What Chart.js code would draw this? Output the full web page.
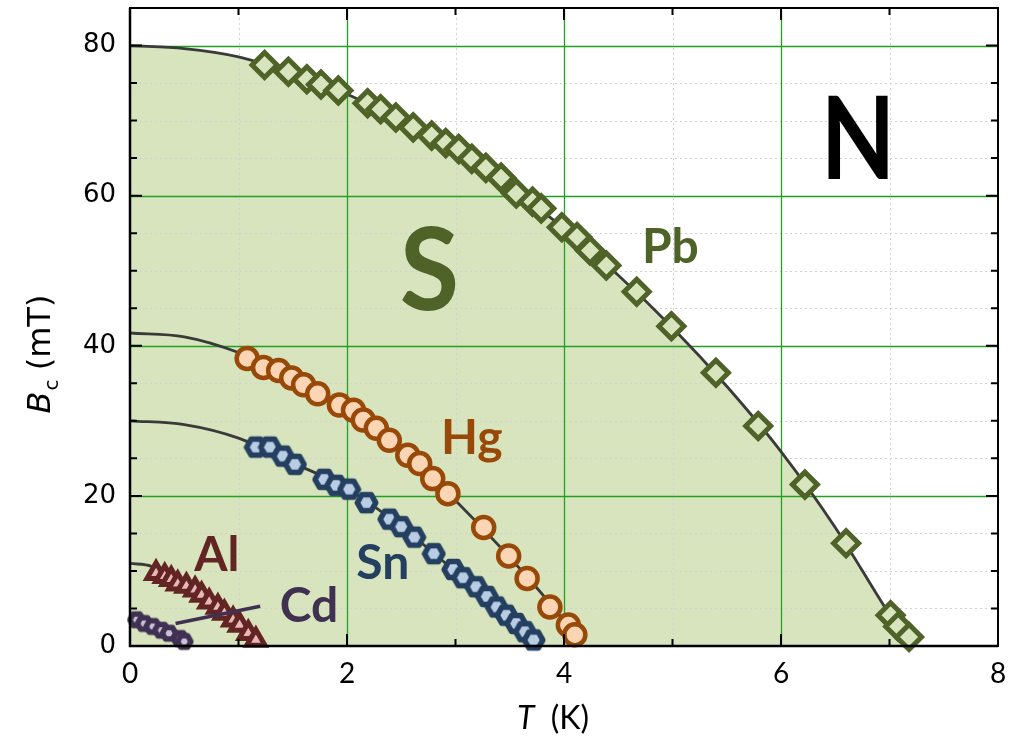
<!DOCTYPE html>
<html>
<head>
<meta charset="utf-8">
<script src="https://cdn.jsdelivr.net/npm/chart.js@4.4.0/dist/chart.umd.min.js"></script>
<style>
html, body { margin: 0; padding: 0; background: #fff; }
canvas { display: block; }
</style>
</head>
<body>
<canvas id="bcChart" width="1013" height="741"></canvas>
<script>
// measured points, T in K and Bc in mT
const pbT = [1.24, 1.46, 1.63, 1.76, 1.92, 2.19, 2.31, 2.45, 2.61, 2.78, 2.91, 3.03, 3.15, 3.28, 3.42, 3.56, 3.71, 3.79, 3.98, 4.12, 4.24, 4.39, 4.67, 4.99, 5.40, 5.79, 6.22, 6.60, 7.01, 7.08, 7.18];
const pbB = [77.4, 76.5, 75.5, 74.8, 74.0, 72.3, 71.5, 70.4, 69.1, 68.0, 67.0, 66.2, 64.9, 63.7, 62.4, 60.3, 59.2, 58.3, 55.8, 54.5, 52.7, 50.7, 47.2, 42.6, 36.4, 29.3, 21.5, 13.7, 4.1, 2.6, 1.2];

const hgT = [1.08, 1.23, 1.37, 1.49, 1.60, 1.73, 1.93, 2.06, 2.15, 2.27, 2.39, 2.56, 2.67, 2.79, 2.93, 3.26, 3.49, 3.66, 3.87, 4.04, 4.10];
const hgB = [38.3, 37.1, 36.7, 35.7, 34.8, 33.6, 32.1, 31.4, 30.1, 29.0, 27.4, 25.4, 24.3, 22.3, 20.3, 15.8, 12.0, 9.0, 5.2, 2.8, 1.5];

const snT = [1.16, 1.29, 1.41, 1.52, 1.79, 1.90, 2.02, 2.18, 2.39, 2.50, 2.62, 2.80, 2.98, 3.07, 3.19, 3.29, 3.38, 3.47, 3.56, 3.64, 3.72];
const snB = [26.5, 26.5, 25.3, 24.2, 22.2, 21.4, 20.9, 19.1, 16.9, 15.9, 14.5, 12.3, 10.2, 9.1, 7.9, 6.6, 5.2, 4.1, 3.0, 1.9, 0.8];

const alT = [0.24, 0.32, 0.38, 0.44, 0.52, 0.60, 0.66, 0.73, 0.81, 0.87, 0.95, 1.01, 1.09, 1.16];
const alB = [9.7, 9.3, 8.9, 8.3, 8.0, 7.5, 6.8, 5.9, 5.2, 4.4, 3.5, 2.8, 1.7, 0.8];

const cdT = [0.06, 0.13, 0.21, 0.29, 0.36, 0.46, 0.50];
const cdB = [3.5, 3.0, 2.6, 2.1, 1.7, 1.0, 0.6];

// fitted curves
const pbFitT = [0, 0.5, 1, 1.5, 2, 2.5, 3, 3.5, 4, 4.5, 5, 5.5, 6, 6.5, 7, 7.2];
const pbFitB = [80, 79.6, 78.5, 76.3, 73.5, 70.0, 66.4, 61.3, 55.6, 49.4, 42.4, 34.6, 25.9, 15.8, 4.2, 0];
const hgFitT = [0, 0.5, 1, 1.5, 2, 2.5, 3, 3.5, 4, 4.15];
const hgFitB = [41.7, 41.2, 39.1, 35.7, 31.7, 26.2, 19.4, 11.8, 3.3, 0];
const snFitT = [0, 0.5, 1, 1.5, 2, 2.5, 3, 3.5, 3.73];
const snFitB = [30, 29.5, 27.7, 24.4, 21.0, 15.9, 9.9, 3.8, 0];
const alFitT = [0, 0.2, 0.4, 0.6, 0.8, 1.0, 1.2];
const alFitB = [11.0, 10.6, 8.7, 7.4, 5.3, 2.9, 0];

// leader line from the Cd label to its data
const cdLeadT = [0.42, 1.2];
const cdLeadB = [3.0, 5.3];

// axes
const xTickValues = [0, 2, 4, 6, 8];
const yTickValues = [0, 20, 40, 60, 80];
const xMinorValues = [1, 3, 5, 7];
const yMinorValues = [5, 10, 15, 25, 30, 35, 45, 50, 55, 65, 70, 75];

// region / element labels
const labelText = ['S', 'N', 'Pb', 'Hg', 'Sn', 'Al', 'Cd'];
const labelT = [2.76, 6.71, 4.98, 3.15, 2.33, 0.80, 1.65];
const labelB = [49.7, 67.1, 53.1, 27.7, 11.0, 12.1, 5.3];

const labelStyle = [
  { color: '#4f6228', size: 114, sx: 0.95 },
  { color: '#000000', size: 114, sx: 0.85 },
  { color: '#4f6228', size: 48, sx: 1 },
  { color: '#984807', size: 48, sx: 1 },
  { color: '#243f60', size: 48, sx: 1 },
  { color: '#632523', size: 48, sx: 1 },
  { color: '#403152', size: 48, sx: 1 }
];

function pts(xs, ys) {
  return xs.map((x, i) => ({ x: x, y: ys[i] }));
}

function hexagon(size, lw, stroke, fill) {
  const c = document.createElement('canvas');
  c.width = size; c.height = size;
  const g = c.getContext('2d');
  const r = (size - lw) / 2 - 0.5;
  g.beginPath();
  for (let k = 0; k < 6; k++) {
    const a = Math.PI / 3 * k;
    const px = size / 2 + r * Math.cos(a), py = size / 2 + r * Math.sin(a);
    if (k === 0) g.moveTo(px, py); else g.lineTo(px, py);
  }
  g.closePath();
  g.fillStyle = fill;
  g.fill();
  g.lineWidth = lw;
  g.lineJoin = 'round';
  g.strokeStyle = stroke;
  g.stroke();
  return c;
}

const snHex = hexagon(25, 5.5, '#243f60', '#b9cde5');
const cdHex = hexagon(20, 5.5, '#403152', '#ccc1da');

function curve(xs, ys, extra) {
  return Object.assign({
    data: pts(xs, ys),
    showLine: true,
    borderColor: '#3a3a3a',
    borderWidth: 2.8,
    pointRadius: 0,
    fill: false,
    cubicInterpolationMode: 'monotone',
    order: 20
  }, extra || {});
}

function markers(xs, ys, style, radius, bw, stroke, fill) {
  return {
    data: pts(xs, ys),
    pointStyle: style,
    pointRadius: radius,
    pointBorderWidth: bw,
    pointBorderColor: stroke,
    pointBackgroundColor: fill,
    borderColor: stroke,
    backgroundColor: fill,
    clip: false,
    order: 5
  };
}

const framePlugin = {
  id: 'frame',
  beforeDatasetsDraw(chart) {
    const { ctx, chartArea: a, scales: { x, y } } = chart;
    ctx.save();
    ctx.lineWidth = 1;
    ctx.strokeStyle = '#d2d2d2';
    ctx.setLineDash([2, 3]);
    ctx.beginPath();
    xMinorValues.forEach(v => {
      const px = Math.round(x.getPixelForValue(v)) + 0.5;
      ctx.moveTo(px, a.top); ctx.lineTo(px, a.bottom);
    });
    yMinorValues.forEach(v => {
      const py = Math.round(y.getPixelForValue(v)) + 0.5;
      ctx.moveTo(a.left, py); ctx.lineTo(a.right, py);
    });
    ctx.stroke();
    ctx.setLineDash([]);
    ctx.strokeStyle = '#22a022';
    ctx.lineWidth = 1.3;
    ctx.beginPath();
    xTickValues.slice(1, -1).forEach(v => {
      const px = Math.round(x.getPixelForValue(v)) + 0.5;
      ctx.moveTo(px, a.top); ctx.lineTo(px, a.bottom);
    });
    yTickValues.slice(1).forEach(v => {
      const py = Math.round(y.getPixelForValue(v)) + 0.5;
      ctx.moveTo(a.left, py); ctx.lineTo(a.right, py);
    });
    ctx.stroke();
    ctx.restore();
  },
  afterDatasetsDraw(chart) {
    const { ctx, scales: { x, y } } = chart;
    labelText.forEach((t, i) => {
      ctx.save();
      ctx.textAlign = 'center';
      ctx.textBaseline = 'middle';
      ctx.font = 'bold ' + labelStyle[i].size + 'px Lato, "Open Sans", sans-serif';
      ctx.fillStyle = labelStyle[i].color;
      ctx.translate(x.getPixelForValue(labelT[i]), y.getPixelForValue(labelB[i]));
      ctx.scale(labelStyle[i].sx, 1);
      ctx.fillText(t, 0, 0);
      ctx.restore();
    });
  },
  afterDraw(chart) {
    const { ctx, chartArea: a, scales: { x, y } } = chart;
    ctx.save();
    // frame
    ctx.strokeStyle = '#000';
    ctx.lineWidth = 2;
    ctx.strokeRect(a.left, a.top, a.right - a.left, a.bottom - a.top);
    ctx.lineWidth = 2.5;
    ctx.beginPath();
    ctx.moveTo(a.left, a.top); ctx.lineTo(a.left, a.bottom); ctx.lineTo(a.right, a.bottom);
    ctx.stroke();
    // inward ticks on all four sides
    ctx.lineWidth = 2;
    ctx.beginPath();
    const tickX = (v, len) => {
      const px = x.getPixelForValue(v);
      ctx.moveTo(px, a.bottom); ctx.lineTo(px, a.bottom - len);
      ctx.moveTo(px, a.top); ctx.lineTo(px, a.top + len);
    };
    const tickY = (v, len) => {
      const py = y.getPixelForValue(v);
      ctx.moveTo(a.left, py); ctx.lineTo(a.left + len, py);
      ctx.moveTo(a.right, py); ctx.lineTo(a.right - len, py);
    };
    xTickValues.forEach(v => tickX(v, 12));
    xMinorValues.forEach(v => tickX(v, 7));
    yTickValues.forEach(v => tickY(v, 12));
    yMinorValues.forEach(v => tickY(v, 7));
    ctx.stroke();

    // axis titles
    ctx.fillStyle = '#000';
    ctx.textBaseline = 'alphabetic';
    ctx.textAlign = 'left';
    ctx.font = 'italic 32px Lato, sans-serif';
    const wT = ctx.measureText('T').width;
    ctx.font = '32px Lato, sans-serif';
    const wK = ctx.measureText('  (K)').width;
    const sx = 553 - (wT + wK) / 2;
    ctx.font = 'italic 32px Lato, sans-serif';
    ctx.fillText('T', sx, 729);
    ctx.font = '32px Lato, sans-serif';
    ctx.fillText('  (K)', sx + wT, 729);

    ctx.translate(50, 354);
    ctx.rotate(-Math.PI / 2);
    ctx.font = 'italic 32px "DejaVu Sans", sans-serif';
    const wB = ctx.measureText('B').width;
    ctx.font = '20px "DejaVu Sans", sans-serif';
    const wc = ctx.measureText('c').width;
    ctx.font = '32px "DejaVu Sans", sans-serif';
    const wm = ctx.measureText(' (mT)').width;
    const s = -(wB + wc + wm) / 2;
    ctx.font = 'italic 32px "DejaVu Sans", sans-serif';
    ctx.fillText('B', s, 0);
    ctx.font = '20px "DejaVu Sans", sans-serif';
    ctx.fillText('c', s + wB + 1, 8);
    ctx.font = '32px "DejaVu Sans", sans-serif';
    ctx.fillText(' (mT)', s + wB + wc, 0);
    ctx.restore();
  }
};

const ctx = document.getElementById('bcChart');
const chart = new Chart(ctx, {
  type: 'scatter',
  data: {
    datasets: [
      curve(pbFitT, pbFitB, { fill: 'origin', backgroundColor: '#d7e4bd', order: 30 }),
      curve(hgFitT, hgFitB),
      curve(snFitT, snFitB),
      curve(alFitT, alFitB),
      markers(pbT, pbB, 'rectRot', 12.5, 5, '#4f6228', '#d7e4bd'),
      markers(hgT, hgB, 'circle', 10.5, 4.5, '#984807', '#fcd5b5'),
      markers(snT, snB, snHex, 10, 0, '#243f60', '#b9cde5'),
      markers(alT, alB, 'triangle', 10.5, 5, '#632523', '#e6b9b8'),
      markers(cdT, cdB, cdHex, 9, 0, '#403152', '#ccc1da'),
      {
        data: pts(cdLeadT, cdLeadB), showLine: true, borderColor: '#403152', borderWidth: 3.5,
        pointRadius: 0, fill: false, order: 1
      }
    ]
  },
  options: {
    responsive: false,
    animation: false,
    layout: { autoPadding: false, padding: { left: 0, right: 15, top: 8, bottom: 0 } },
    plugins: {
      legend: { display: false },
      tooltip: { enabled: false },
      filler: { drawTime: 'beforeDatasetsDraw' }
    },
    scales: {
      x: {
        type: 'linear', min: 0, max: 8,
        afterBuildTicks: s => { s.ticks = xTickValues.map(v => ({ value: v })); },
        afterFit: s => { s.height = 95; s.paddingLeft = 0; s.paddingRight = 0; },
        grid: { display: false, drawTicks: false },
        border: { display: false },
        ticks: { color: '#000', padding: 11, font: { family: 'Lato', size: 28 } }
      },
      y: {
        type: 'linear', min: 0, max: 85,
        afterBuildTicks: s => { s.ticks = yTickValues.map(v => ({ value: v })); },
        afterFit: s => { s.width = 130; s.paddingTop = 0; s.paddingBottom = 0; },
        grid: { display: false, drawTicks: false },
        border: { display: false },
        ticks: { color: '#000', padding: 14, font: { family: 'DejaVu Sans', size: 26 } }
      }
    }
  },
  plugins: [framePlugin]
});
</script>
</body>
</html>
